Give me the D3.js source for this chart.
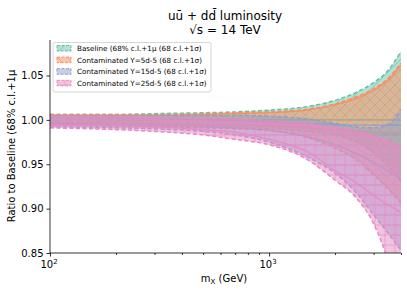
<!DOCTYPE html>
<html>
<head>
<meta charset="utf-8">
<script src="https://cdn.jsdelivr.net/npm/d3@7"></script>
<style>
  body { margin: 0; background: #fff; }
  text { font-family: "DejaVu Sans", sans-serif; }
</style>
</head>
<body>
<svg id="chart" width="407" height="291"></svg>
<script>
// mass grid (GeV)
var masses = [100, 200, 300, 500, 700, 1000, 1500, 2000, 2500, 3000, 3500, 4000];

// baseline
var baseHi  = [1.006, 1.006, 1.007, 1.008, 1.009, 1.011, 1.015, 1.022, 1.031, 1.042, 1.056, 1.077];
var baseLo  = [0.994, 0.994, 0.993, 0.992, 0.991, 0.990, 0.987, 0.983, 0.975, 0.963, 0.948, 0.930];
var baseSHi = [1.000, 1.000, 1.000, 1.000, 1.000, 1.000, 1.000, 1.000, 1.000, 1.000, 1.000, 1.000];
var baseSLo = [1.000, 1.000, 1.000, 1.000, 1.000, 1.000, 1.000, 1.000, 1.000, 1.000, 1.000, 1.000];

// Y = 5d-5
var y5Hi  = [1.006, 1.006, 1.006, 1.007, 1.008, 1.009, 1.012, 1.018, 1.026, 1.035, 1.047, 1.064];
var y5Lo  = [0.994, 0.993, 0.992, 0.991, 0.990, 0.988, 0.980, 0.968, 0.955, 0.938, 0.922, 0.906];
var y5SHi = [1.005, 1.005, 1.005, 1.006, 1.007, 1.008, 1.011, 1.017, 1.024, 1.033, 1.045, 1.062];
var y5SLo = [0.997, 0.997, 0.996, 0.995, 0.994, 0.993, 0.991, 0.989, 0.987, 0.986, 0.985, 0.985];

// Y = 15d-5
var y15Hi  = [1.005, 1.005, 1.005, 1.005, 1.005, 1.004, 1.001, 0.996, 0.992, 0.991, 0.995, 1.012];
var y15Lo  = [0.992, 0.991, 0.990, 0.987, 0.983, 0.975, 0.958, 0.940, 0.918, 0.893, 0.872, 0.853];
var y15SHi = [1.002, 1.002, 1.001, 1.000, 0.999, 0.998, 0.996, 0.995, 0.994, 0.994, 0.994, 0.994];
var y15SLo = [0.996, 0.995, 0.994, 0.993, 0.991, 0.988, 0.981, 0.972, 0.962, 0.952, 0.942, 0.933];

// Y = 25d-5
var y25Hi  = [1.004, 1.004, 1.003, 1.002, 1.001, 0.999, 0.996, 0.992, 0.987, 0.982, 0.976, 0.970];
var y25Lo  = [0.991, 0.989, 0.987, 0.983, 0.978, 0.972, 0.955, 0.932, 0.912, 0.883, 0.840, 0.785];
var y25SHi = [1.001, 1.001, 1.000, 0.999, 0.998, 0.996, 0.993, 0.989, 0.985, 0.980, 0.975, 0.970];
var y25SLo = [0.994, 0.993, 0.992, 0.989, 0.986, 0.978, 0.964, 0.943, 0.929, 0.915, 0.904, 0.896];

var labels = ["Baseline (68% c.l.+1\u03bc (68 c.l.+1\u03c3)",
              "Contaminated Y=5d-5 (68 c.l.+1\u03c3)",
              "Contaminated Y=15d-5 (68 c.l.+1\u03c3)",
              "Contaminated Y=25d-5 (68 c.l.+1\u03c3)"];
var colors = ["#66c2a5", "#fc8d62", "#8da0cb", "#e78ac3"];
var hatches = ["fwd", "back", "horiz", "grid"];

var xTicks = [100, 1000];
var xMinor = [200, 300, 400, 500, 600, 700, 800, 900, 2000, 3000, 4000];
var yTicks = [0.85, 0.90, 0.95, 1.00, 1.05];

var series = [
    {hi: baseHi, lo: baseLo, sHi: baseSHi, sLo: baseSLo},
    {hi: y5Hi, lo: y5Lo, sHi: y5SHi, sLo: y5SLo},
    {hi: y15Hi, lo: y15Lo, sHi: y15SHi, sLo: y15SLo},
    {hi: y25Hi, lo: y25Lo, sHi: y25SHi, sLo: y25SLo}
];

var pL = 50, pR = 401, pT = 40, pB = 253;
var svg = d3.select("#chart");
var x = d3.scaleLog().domain([100, 4000]).range([pL, pR]);
var y = d3.scaleLinear().domain([0.85, 1.09]).range([pB, pT]);

var defs = svg.append("defs");
defs.append("clipPath").attr("id", "clip")
    .append("rect").attr("x", pL).attr("y", pT)
    .attr("width", pR - pL).attr("height", pB - pT);

function makeHatch(id, kind, color) {
    var s = 10;
    var p = defs.append("pattern").attr("id", id)
        .attr("patternUnits", "userSpaceOnUse")
        .attr("width", s).attr("height", s);
    var g = p.append("g").attr("stroke", color).attr("stroke-width", 1).attr("stroke-opacity", 0.65);
    if (kind == "fwd") {
        g.append("path").attr("d", `M0 ${s} L${s} 0 M-2 2 L2 -2 M${s-2} ${s+2} L${s+2} ${s-2}`);
    } else if (kind == "back") {
        g.append("path").attr("d", `M0 0 L${s} ${s} M-2 ${s-2} L2 ${s+2} M${s-2} -2 L${s+2} 2`);
    } else if (kind == "horiz") {
        g.append("path").attr("d", `M0 ${s/2} L${s} ${s/2}`);
    } else {
        g.append("path").attr("d", `M0 ${s/2} L${s} ${s/2} M${s/2} 0 L${s/2} ${s}`);
    }
}
colors.forEach((c, i) => makeHatch("hatch" + i, hatches[i], c));

var plot = svg.append("g").attr("clip-path", "url(#clip)");

var area = d3.area()
    .x((d, i) => x(masses[i]))
    .y0(d => y(d[0]))
    .y1(d => y(d[1]))
    .curve(d3.curveMonotoneX);
var line = d3.line()
    .x((d, i) => x(masses[i]))
    .y(d => y(d))
    .curve(d3.curveMonotoneX);

series.forEach((s, i) => {
    var pts = s.lo.map((v, k) => [v, s.hi[k]]);
    plot.append("path").attr("d", area(pts))
        .attr("fill", colors[i]).attr("fill-opacity", 0.5);
    plot.append("path").attr("d", area(pts))
        .attr("fill", `url(#hatch${i})`);
    [s.lo, s.hi].forEach(arr => {
        plot.append("path").attr("d", line(arr))
            .attr("fill", "none").attr("stroke", colors[i])
            .attr("stroke-width", 1.5).attr("stroke-dasharray", "4,2.5");
    });
    [s.sLo, s.sHi].forEach(arr => {
        plot.append("path").attr("d", line(arr))
            .attr("fill", "none").attr("stroke", colors[i])
            .attr("stroke-width", 1.2);
    });
});

// axes
var xAxis = svg.append("g").attr("transform", `translate(0,${pB})`)
    .call(d3.axisBottom(x).tickValues(xTicks).tickSize(3.5).tickFormat(""));
xAxis.select(".domain").attr("d", `M${pL},0H${pR}`).attr("stroke-width", 0.8);
svg.append("g").attr("transform", `translate(0,${pB})`)
    .call(d3.axisBottom(x).tickValues(xMinor).tickSize(2).tickFormat(""))
    .select(".domain").remove();
xTicks.forEach(t => {
    var tx = svg.append("text").attr("x", x(t) - 1).attr("y", pB + 15)
        .attr("text-anchor", "middle").attr("font-size", 10);
    tx.append("tspan").text("10");
    tx.append("tspan").attr("font-size", 7).attr("dy", -4).text(Math.log10(t));
});

var yAxis = svg.append("g").attr("transform", `translate(${pL},0)`)
    .call(d3.axisLeft(y).tickValues(yTicks).tickSize(3.5).tickFormat(d3.format(".2f")));
yAxis.select(".domain").attr("d", `M0,${pT}V${pB}`).attr("stroke-width", 0.8);
yAxis.selectAll("text").attr("font-size", 10).attr("font-family", "DejaVu Sans").attr("fill", "#000");
svg.selectAll(".tick line").attr("stroke", "#000").attr("stroke-width", 0.8);

// titles
svg.append("text").attr("x", 225).attr("y", 19.5).attr("text-anchor", "middle")
    .attr("font-size", 12).text("u\u016b + dd\u0304 luminosity");
svg.append("text").attr("x", 225).attr("y", 33.5).attr("text-anchor", "middle")
    .attr("font-size", 12).text("\u221as = 14 TeV");

var xl = svg.append("text").attr("x", 224).attr("y", 282).attr("text-anchor", "middle")
    .attr("font-size", 10);
xl.append("tspan").text("m");
xl.append("tspan").attr("font-size", 7).attr("dy", 2).text("X");
xl.append("tspan").attr("dy", -2).text(" (GeV)");

svg.append("text").attr("transform", `translate(15,146) rotate(-90)`)
    .attr("text-anchor", "middle").attr("font-size", 10)
    .text("Ratio to Baseline (68% c.l.+1\u03bc");

// legend
var leg = svg.append("g");
leg.append("rect").attr("x", 53).attr("y", 42.5).attr("width", 158).attr("height", 49.5)
    .attr("rx", 2).attr("fill", "#fff").attr("fill-opacity", 0.8)
    .attr("stroke", "#ccc").attr("stroke-width", 0.8);
labels.forEach((lab, i) => {
    var ly = 48.5 + i * 11.6;
    leg.append("rect").attr("x", 57).attr("y", ly - 3).attr("width", 14).attr("height", 5.5)
        .attr("fill", colors[i]).attr("fill-opacity", 0.5)
        .attr("stroke", colors[i]).attr("stroke-dasharray", "3,1.5").attr("stroke-width", 1);
    leg.append("rect").attr("x", 57).attr("y", ly - 3).attr("width", 14).attr("height", 5.5)
        .attr("fill", `url(#hatch${i})`);
    leg.append("text").attr("x", 77).attr("y", ly + 2.5).attr("font-size", 7.2).text(lab);
});
</script>
</body>
</html>
